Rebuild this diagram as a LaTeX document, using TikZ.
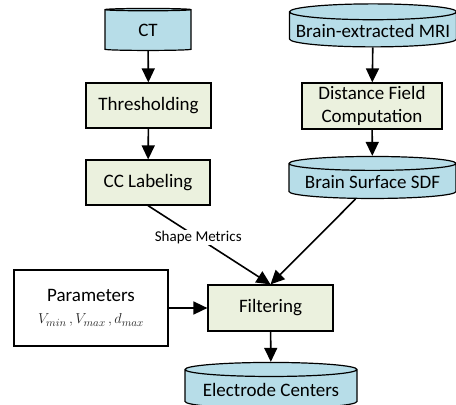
\documentclass[tikz,border=0pt]{standalone}
\usepackage{fontspec}
\setmainfont{Carlito}
\usepackage{amsmath}
\usetikzlibrary{shapes.geometric, arrows.meta}
\definecolor{dbblue}{HTML}{B7DDE8}
\definecolor{stepgreen}{HTML}{EBF1DE}
\tikzstyle{arrow} = [line width=1.6pt,-{Triangle[length=14pt,width=13pt]}]

\begin{document}
\begin{tikzpicture}[x=1pt, y=-1pt,
                    font=\fontsize{19}{22.5}\selectfont
                   ]

\tikzset{stepbox/.style = {rectangle, draw, line width=1.2pt, fill = stepgreen, align = center, inner sep = 2pt},
         database/.style = {cylinder, shape border rotate = 90, draw, line width=1.2pt, fill = dbblue, aspect = 0.1, align = center, inner sep = 2pt}}

\useasboundingbox (0,0) rectangle (456,405);

% inputs
\node[database, minimum width = 86pt, minimum height = 42pt] (ct) at (148,30.5) {CT};
\node[database, minimum width = 167pt, minimum height = 43pt] (mri) at (373,30.5) {Brain-extracted MRI};

% processing steps
\node[stepbox, minimum width = 125pt, minimum height = 45pt] (thresh) at (148.5,105.5) {Thresholding};
\node[stepbox, minimum width = 124pt, minimum height = 45pt] (cclabel) at (148,182.5) {CC Labeling};
\node[stepbox, minimum width = 140pt, minimum height = 46pt] (distfield) at (372,106) {Distance Field\\ Computation};
\node[database, minimum width = 167pt, minimum height = 42pt] (sdf) at (372.5,182) {Brain Surface SDF};
\node[stepbox, minimum width = 125pt, minimum height = 46pt] (filter) at (270.5,308) {Filtering};
\node[rectangle, draw, line width=1.2pt, fill = white, align = center, minimum width = 154pt, minimum height = 76pt] (params) at (91,308) {Parameters\\ \fontsize{15}{18}\selectfont\textcolor{black!85}{$V_{min}\,, V_{max}\,, d_{max}$}};
\node[database, minimum width = 172pt, minimum height = 46pt] (centers) at (271,390) {Electrode Centers};

% connectors
\draw[arrow] (ct) -- (thresh);
\draw[arrow] (thresh) -- (cclabel);
\draw[arrow] (mri) -- (distfield);
\draw[arrow] (distfield) -- (sdf);
\draw[arrow] (cclabel.south) -- node[pos=0.41, fill=white, inner sep=1pt, font=\fontsize{15}{18}\selectfont] {Shape Metrics} (filter.north);
\draw[arrow] (sdf) -- (filter.north);
\draw[arrow] (params) -- (filter);
\draw[arrow] (filter) -- (centers);

\end{tikzpicture}
\end{document}
